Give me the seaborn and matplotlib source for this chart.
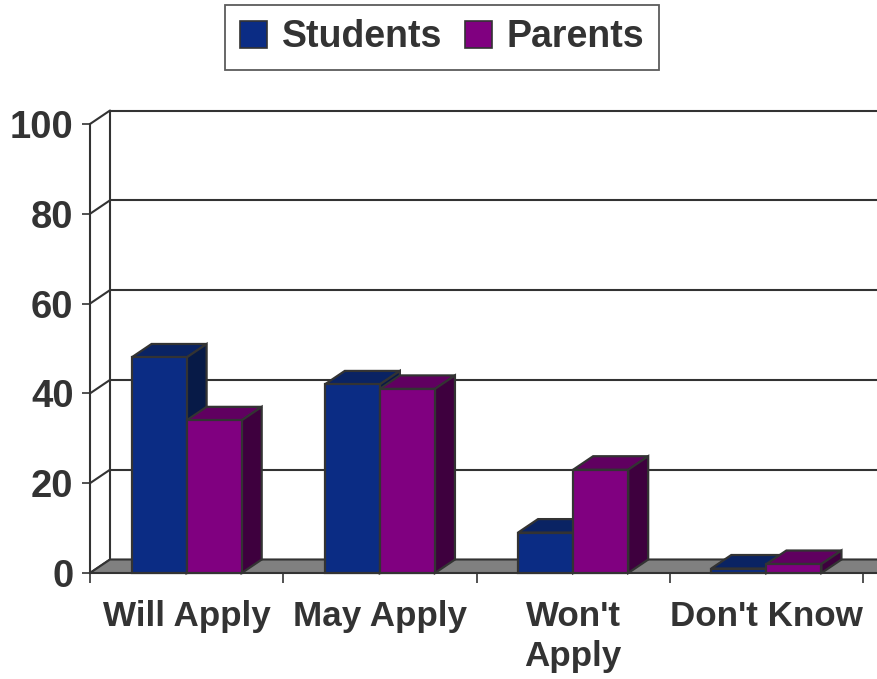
import matplotlib
matplotlib.use("Agg")
import matplotlib.pyplot as plt
from matplotlib.patches import Polygon, Patch
import seaborn as sns
import pandas as pd

categories = ["Will Apply", "May Apply", "Won't\nApply", "Don't Know"]
students = [48, 42, 9, 1]
parents = [34, 41, 23, 2]
series_names = ["Students", "Parents"]
y_ticks = [0, 20, 40, 60, 80, 100]

front_colors = {"Students": "#0B2C84", "Parents": "#800080"}
top_colors = {"Students": "#0A2363", "Parents": "#600060"}
side_colors = {"Students": "#071A47", "Parents": "#3E003E"}
edge = "#333333"
text_color = "#333333"

df = pd.DataFrame({
    "category": categories * 2,
    "value": students + parents,
    "group": [series_names[0]] * len(categories) + [series_names[1]] * len(categories),
})

sns.set_theme(style="white")
plt.rcParams["font.family"] = ["Liberation Sans", "DejaVu Sans"]
plt.rcParams["font.weight"] = "bold"

W, H = 877, 679
fig = plt.figure(figsize=(W / 100, H / 100), dpi=100)
fig.patch.set_facecolor("white")
left_px, right_px, top_px, bottom_px = 90, 863, 124, 573
ax = fig.add_axes([left_px / W, 1 - bottom_px / H,
                   (right_px - left_px) / W, (bottom_px - top_px) / H])

sns.barplot(data=df, x="category", y="value", hue="group", hue_order=series_names,
            palette=front_colors, width=0.57, ax=ax,
            edgecolor=edge, linewidth=1.6, saturation=1, legend=False)

# collect the front faces with their series name
bars = []
for name, container in zip(series_names, ax.containers):
    for b in container:
        bars.append((b, name))
bars.sort(key=lambda t: t[0].get_x())

ax.set_xlim(-0.5, len(categories) - 0.5)
ax.set_ylim(0, 100)

# depth offset of the 3-D look, in data units
px_x = (right_px - left_px) / len(categories)
px_y = (bottom_px - top_px) / 100
dx = 20 / px_x
dy = 13.5 / px_y

x0, x1 = -0.5, len(categories) - 0.5

# back wall grid lines and left wall edge
for v in y_ticks:
    ax.plot([x0, x0 + dx], [v, v + dy], color=edge, lw=1.5, clip_on=False, zorder=1)
    ax.plot([x0 + dx, x1 + 2 * dx], [v + dy, v + dy], color=edge, lw=1.5,
            clip_on=False, zorder=1)
ax.plot([x0 + dx, x0 + dx], [dy, 100 + dy], color=edge, lw=1.5, clip_on=False, zorder=1)

# floor
floor = Polygon([[x0, 0], [x1 + 2 * dx, 0], [x1 + 3 * dx, dy], [x0 + dx, dy]],
                closed=True, facecolor="#808080", edgecolor=edge, lw=1.5,
                clip_on=False, zorder=2)
ax.add_patch(floor)

# extrude each bar: top and right side, ordered left to right
z = 3
for b, name in bars:
    bx, bw, bh = b.get_x(), b.get_width(), b.get_height()
    top = Polygon([[bx, bh], [bx + bw, bh], [bx + bw + dx, bh + dy], [bx + dx, bh + dy]],
                  closed=True, facecolor=top_colors[name], edgecolor=edge, lw=1.6,
                  clip_on=False, zorder=z)
    side = Polygon([[bx + bw, 0], [bx + bw + dx, dy], [bx + bw + dx, bh + dy], [bx + bw, bh]],
                   closed=True, facecolor=side_colors[name], edgecolor=edge, lw=1.6,
                   clip_on=False, zorder=z)
    ax.add_patch(top)
    ax.add_patch(side)
    b.set_zorder(z + 0.5)
    b.set_clip_on(False)
    z += 1

# axes styling
for s in ["top", "right", "bottom"]:
    ax.spines[s].set_visible(False)
ax.spines["left"].set_color(edge)
ax.spines["left"].set_linewidth(1.5)
ax.spines["left"].set_zorder(20)
ax.set_facecolor("none")

ax.set_yticks(y_ticks)
ax.set_yticklabels([str(v) for v in y_ticks])
ax.tick_params(axis="y", which="major", left=True, length=5.8, width=1.2,
               color=edge, pad=6, labelsize=27.5, labelcolor=text_color)

ax.set_xticks(range(len(categories)))
ax.set_xticklabels(categories, fontsize=25.2, color=text_color, linespacing=1.25)
ax.set_xticks([x0 + i for i in range(len(categories) + 1)], minor=True)
ax.tick_params(axis="x", which="major", bottom=True, length=0, pad=19.5)
ax.tick_params(axis="x", which="minor", bottom=True, length=7.2, width=1.2, color=edge)
for lbl in ax.get_xticklabels() + ax.get_yticklabels():
    lbl.set_fontweight("bold")
ax.set_xlabel("")
ax.set_ylabel("")
ax.grid(False)

# legend
handles = [Patch(facecolor=front_colors[n], edgecolor=edge, lw=1.2) for n in series_names]
leg = fig.legend(handles, series_names, loc="upper center", bbox_to_anchor=(442 / W, 1 - 5 / H),
                 ncol=2, frameon=True, fancybox=False,
                 prop={"weight": "bold", "size": 27},
                 handlelength=0.72, handleheight=0.72, handletextpad=0.4,
                 columnspacing=0.6, borderpad=0.38, borderaxespad=0)
leg.get_frame().set_edgecolor(edge)
leg.get_frame().set_linewidth(1.3)
for t in leg.get_texts():
    t.set_color(text_color)

fig.savefig("out.png", dpi=100, facecolor="white")
